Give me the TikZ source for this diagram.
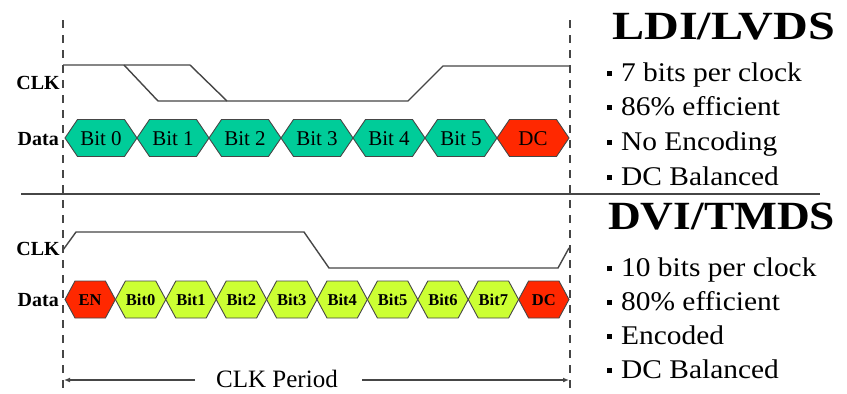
\documentclass[tikz,border=0pt]{standalone}
\usepackage{fontspec}
\setmainfont{Liberation Serif}
\usepackage{graphicx}
\usetikzlibrary{arrows.meta}
\definecolor{hexteal}{RGB}{0,204,153}
\definecolor{hexred}{RGB}{255,40,0}
\definecolor{hexlime}{RGB}{204,255,51}
\definecolor{wire}{RGB}{70,70,70}
\begin{document}
\begin{tikzpicture}[x=1pt,y=-1pt,
  wave/.style={draw=wire,line width=1.4pt,line join=miter},
  guide/.style={draw=wire,line width=1.5pt,dash pattern=on 8pt off 7pt},
  hexbox/.style={draw=wire,line width=0.9pt},
  sig/.style={anchor=base east,inner sep=0pt,font=\fontsize{20}{22}\selectfont\bfseries},
  toptxt/.style={inner sep=0pt,font=\fontsize{21}{23}\selectfont},
  bottxt/.style={inner sep=0pt,font=\fontsize{16.5}{18}\selectfont\bfseries},
  title/.style={anchor=base west,inner sep=0pt,font=\fontsize{40}{44}\selectfont\bfseries},
  bullet/.style={anchor=base west,inner sep=0pt,font=\fontsize{27}{30}\selectfont},
  period/.style={inner sep=0pt,anchor=base,font=\fontsize{25}{28}\selectfont}
]
\useasboundingbox (0,0) rectangle (847,394);
\fill[white] (0,0) rectangle (847,394);

% guides
\draw[guide] (63,20) -- (63,394);
\draw[guide] (570,20) -- (570,394);

% separator
\draw[draw=wire,line width=1.6pt] (21,194) -- (820,194);

% top clock
\draw[wave] (63,65) -- (190,65) -- (227,101);
\draw[wave] (124,65) -- (158,101) -- (408,101) -- (443,66) -- (569,66);

% bottom clock
\draw[wave] (63,250) -- (76,232) -- (304,232) -- (329,268) -- (558,268) -- (569,248);

% top data hexagons
\foreach \i/\t/\c in {0/Bit 0/hexteal,1/Bit 1/hexteal,2/Bit 2/hexteal,3/Bit 3/hexteal,4/Bit 4/hexteal,5/Bit 5/hexteal,6/DC/hexred}{
  \pgfmathsetmacro\xa{65+72*\i}
  \draw[hexbox,fill=\c] (\xa,138) -- (\xa+12.5,119.5) -- (\xa+59.5,119.5) -- (\xa+72,138) -- (\xa+59.5,156.5) -- (\xa+12.5,156.5) -- cycle;
  \node[toptxt] (top\i) at (\xa+36,138.5) {\t};
}

% bottom data hexagons
\foreach \i/\t/\c in {0/EN/hexred,1/Bit0/hexlime,2/Bit1/hexlime,3/Bit2/hexlime,4/Bit3/hexlime,5/Bit4/hexlime,6/Bit5/hexlime,7/Bit6/hexlime,8/Bit7/hexlime,9/DC/hexred}{
  \pgfmathsetmacro\xa{65+50.4*\i}
  \draw[hexbox,fill=\c] (\xa,299.5) -- (\xa+10,281) -- (\xa+40.4,281) -- (\xa+50.4,299.5) -- (\xa+40.4,318) -- (\xa+10,318) -- cycle;
  \node[bottxt] (bot\i) at (\xa+25.2,300) {\t};
}

% signal labels
\node[sig] (clkA) at (60,89) {CLK};
\node[sig] (dataA) at (59,145) {Data};
\node[sig] (clkB) at (60,255) {CLK};
\node[sig] (dataB) at (59,306) {Data};

% titles
\node[title] (ldi) at (612,39) {\resizebox{223pt}{\height}{LDI/LVDS}};
\node[title] (dvi) at (608,229) {\resizebox{227pt}{\height}{DVI/TMDS}};

% bullets
\newcommand\bsq{\raisebox{5pt}{\rule{5pt}{5pt}}\hspace{9pt}}
\newcommand\btxt[1]{\bsq\scalebox{1.09}[1]{#1}}
\node[bullet] (l1) at (607,81) {\btxt{7 bits per clock}};
\node[bullet] (l2) at (607,115) {\btxt{86\% efficient}};
\node[bullet] (l3) at (607,150) {\btxt{No Encoding}};
\node[bullet] (l4) at (607,185) {\btxt{DC Balanced}};
\node[bullet] (d1) at (607,276) {\btxt{10 bits per clock}};
\node[bullet] (d2) at (607,310) {\btxt{80\% efficient}};
\node[bullet] (d3) at (607,344) {\btxt{Encoded}};
\node[bullet] (d4) at (607,378) {\btxt{DC Balanced}};

% CLK period
\node[period] (per) at (277,387) {CLK Period};
\coordinate (pl) at (64,380);
\coordinate (pr) at (569,380);
\coordinate (gl) at (195,380);
\coordinate (gr) at (362,380);
\draw[draw=wire,line width=1.3pt,-{Latex[length=6pt,width=5pt]}] (gl) -- (pl);
\draw[draw=wire,line width=1.3pt,-{Latex[length=6pt,width=5pt]}] (gr) -- (pr);
\end{tikzpicture}
\end{document}
